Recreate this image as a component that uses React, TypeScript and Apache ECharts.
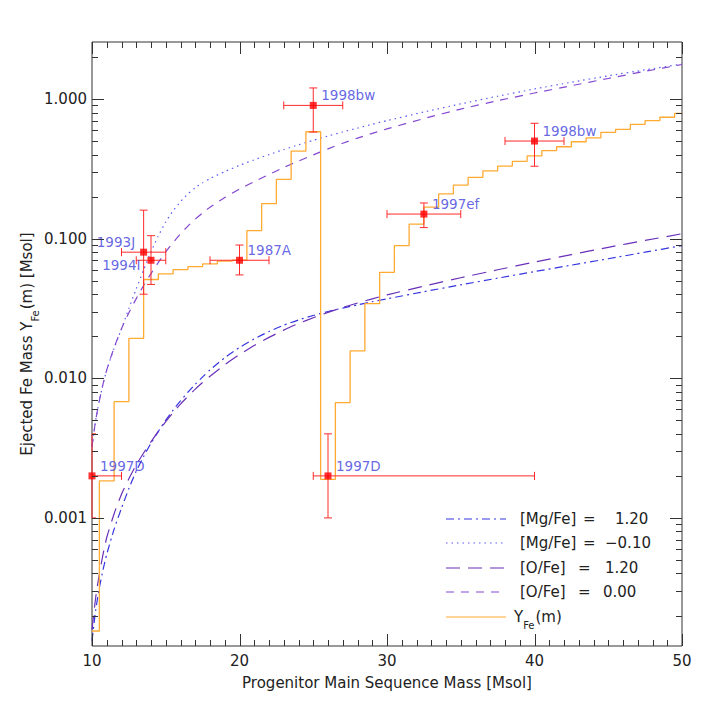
import React, { useEffect, useRef } from "react";
import * as echarts from "echarts";

// ---------------- data ----------------
const stepMasses = [10, 11, 12, 13, 14, 15, 16, 17, 18, 19, 20, 21, 22, 23, 24, 25, 26, 27, 28, 29, 30,
  31, 32, 33, 34, 35, 36, 37, 38, 39, 40, 41, 42, 43, 44, 45, 46, 47, 48, 49, 50];
const stepYields = [0.000155, 0.00184, 0.0068, 0.0193, 0.051, 0.056, 0.06, 0.063, 0.066, 0.069, 0.07,
  0.114, 0.178, 0.266, 0.424, 0.583, 0.00189, 0.0067, 0.0157, 0.0342, 0.0574,
  0.089, 0.127, 0.168, 0.209, 0.242, 0.275, 0.306, 0.331, 0.358, 0.391,
  0.427, 0.455, 0.494, 0.526, 0.577, 0.607, 0.659, 0.7, 0.74, 0.79];

const modelMasses = [10, 10.25, 10.5, 10.75, 11, 11.5, 12, 12.5, 13, 13.5, 14, 14.5, 15, 15.5, 16, 16.5,
  17, 17.5, 18, 19, 20, 21, 22, 23, 24, 25, 26, 27, 28, 29, 30, 32.5, 35, 37.5, 40, 42.5, 45, 47.5, 50];
// [Mg/Fe] = -0.10 (dotted)
const mgLowYields = [0.00324, 0.00501, 0.00692, 0.00912, 0.01148, 0.0164, 0.02265, 0.0316, 0.0437, 0.0596,
  0.0804, 0.1047, 0.1318, 0.1585, 0.184, 0.209, 0.2317, 0.2512, 0.2692, 0.302, 0.335, 0.367, 0.4, 0.4345,
  0.47, 0.506, 0.543, 0.581, 0.619, 0.659, 0.7, 0.807, 0.923, 1.047, 1.18, 1.318, 1.466, 1.618, 1.778];
// [O/Fe] = 0.00 (short dash)
const oLowYields = [0.00324, 0.00501, 0.00692, 0.00912, 0.01148, 0.0166, 0.02265, 0.0295, 0.0372, 0.0462,
  0.0562, 0.0676, 0.0804, 0.0938, 0.1084, 0.123, 0.138, 0.153, 0.168, 0.197, 0.2265, 0.256, 0.288, 0.3236,
  0.359, 0.398, 0.4395, 0.482, 0.525, 0.5675, 0.611, 0.724, 0.847, 0.973, 1.104, 1.245, 1.403, 1.578, 1.766];
// [Mg/Fe] = 1.20 (dash-dot)
const mgHighYields = [0.0001318, 0.0002188, 0.0003162, 0.0004266, 0.0005495, 0.0008318, 0.001175, 0.001622,
  0.002163, 0.002754, 0.003428, 0.004169, 0.005012, 0.005916, 0.006887, 0.007943, 0.009057, 0.01023, 0.01148,
  0.01403, 0.0166, 0.01914, 0.02163, 0.02399, 0.02618, 0.02818, 0.03006, 0.03184, 0.03357, 0.03532, 0.03707,
  0.04169, 0.04667, 0.05212, 0.05808, 0.06457, 0.07178, 0.07998, 0.08913];
// [O/Fe] = 1.20 (long dash)
const oHighYields = [0.0001585, 0.0002692, 0.0003981, 0.0005495, 0.0007244, 0.001072, 0.001479, 0.001905,
  0.002399, 0.002917, 0.003508, 0.004169, 0.004898, 0.005689, 0.006531, 0.007413, 0.008356, 0.009333, 0.01035,
  0.0125, 0.01479, 0.01718, 0.01963, 0.02213, 0.02466, 0.02716, 0.02965, 0.03214, 0.03459, 0.03707, 0.03954,
  0.04571, 0.05248, 0.05984, 0.06792, 0.07691, 0.0867, 0.09705, 0.1084];

const snNames = ["1993J", "1994I", "1987A", "1998bw", "1997ef", "1998bw", "1997D", "1997D"];
const snMass = [13.5, 14, 20, 25, 32.5, 40, 10, 26];
const snMassLo = [12, 13, 18, 23, 30, 38, 8, 25];
const snMassHi = [15, 15, 22, 27, 35, 42, 12, 40];
const snFe = [0.08, 0.07, 0.07, 0.9, 0.15, 0.5, 0.002, 0.002];
const snFeLo = [0.04, 0.047, 0.055, 0.58, 0.12, 0.33, 0.001, 0.001];
const snFeHi = [0.16, 0.105, 0.09, 1.2, 0.18, 0.67, 0.004, 0.004];

const xTickLabels = [10, 20, 30, 40, 50];
const yTickLabels = ["0.001", "0.010", "0.100", "1.000"];

const legendNames = ["[Mg/Fe]", "[Mg/Fe]", "[O/Fe]", "[O/Fe]"];
const legendValues = ["1.20", "\u22120.10", "1.20", "0.00"];

const X_MIN = 10, X_MAX = 50, Y_MIN = 1.21e-4, Y_MAX = 2.56;

// ---------------- styles ----------------
const FONT = "DejaVu Sans";
const TXT = "#222222";
const C_DASHDOT = "#3535e0";
const C_DOT = "#5a5af5";
const C_LONG = "#6a30b8";
const C_SHORT = "#8448d0";
const C_ORANGE = "#ffaa33";
const C_RED = "#ff2a2a";
const C_LABEL = "#4040dc";
const DASH_DOT = [8, 4, 2, 4];
const DOT = [1.5, 4];
const LONG = [14, 8];
const SHORT = [8, 7];

function textWidth(s: string, size: number) {
  const ctx = document.createElement("canvas").getContext("2d");
  if (!ctx) return s.length * size * 0.6;
  ctx.font = `${size}px "${FONT}"`;
  return ctx.measureText(s).width;
}

function buildOption() {
  const zip = (xs: number[], ys: number[]) => xs.map((x, i) => [x, ys[i]]);

  const xTicks: number[][] = [];
  for (let m = X_MIN; m <= X_MAX; m++) xTicks.push([m, 1, m % 10 === 0 ? 1 : 0]);
  const yTicks: number[][] = [];
  for (let n = -4; n <= 0; n++) {
    for (let k = 1; k <= 9; k++) {
      const v = k * Math.pow(10, n);
      if (v >= Y_MIN && v <= Y_MAX) yTicks.push([X_MIN, v, k === 1 ? 1 : 0]);
    }
  }

  const labelPlace: Record<string, any> = {
    "1993J": { position: "left", distance: 5, offset: [0, -10] },
    "1994I": { position: "left", distance: 7, offset: [0, 5] },
  };

  const modelLine = (name: string, xs: number[], ys: number[], color: string, dash: number[]) => ({
    type: "line",
    name,
    data: zip(xs, ys),
    showSymbol: false,
    smooth: 0.2,
    lineStyle: { color, width: 1.2, type: dash },
    z: 2,
    silent: true,
  });

  const tickStyle = { stroke: "#333", lineWidth: 1 };

  // legend graphic
  const rows = [519, 543, 568, 592, 617];
  const lineCols = [C_DASHDOT, C_DOT, C_LONG, C_SHORT, C_ORANGE];
  const lineDashes: any[] = [DASH_DOT, DOT, LONG, SHORT, null];
  const eqX = [583, 583, 578, 578];
  const valX = [615, 605, 605, 603];
  const legendEls: any[] = [];
  rows.forEach((y, i) => {
    legendEls.push({
      type: "line",
      shape: { x1: 446, y1: y, x2: 506, y2: y },
      style: { stroke: lineCols[i], lineWidth: 1.2, lineDash: lineDashes[i] || undefined },
    });
  });
  const txt = (text: string, x: number, y: number, size = 15, fill = TXT) => ({
    type: "text",
    x,
    y,
    style: {
      text,
      fill,
      font: `${size}px "${FONT}"`,
      fontSize: size,
      fontFamily: FONT,
      align: "left",
      textAlign: "left",
      verticalAlign: "middle",
      textVerticalAlign: "middle",
    },
  });
  for (let i = 0; i < 4; i++) {
    legendEls.push(txt(legendNames[i], 520, rows[i]));
    legendEls.push(txt("=", eqX[i], rows[i]));
    legendEls.push(txt(legendValues[i], valX[i], rows[i]));
  }
  const wY = textWidth("Y", 15);
  const wFe = textWidth("Fe", 10);
  legendEls.push(txt("Y", 514, rows[4]));
  legendEls.push(txt("Fe", 514 + wY, rows[4] + 8, 10));
  legendEls.push(txt("(m)", 514 + wY + wFe + 1, rows[4]));

  // y-axis title (rotated)
  const p1 = "Ejected Fe Mass Y";
  const p2 = "Fe";
  const p3 = "(m) [Msol]";
  const w1 = textWidth(p1, 15), w2 = textWidth(p2, 10), w3 = textWidth(p3, 15);
  const total = w1 + w2 + w3 + 1;
  const s0 = -total / 2;
  const yTitle = {
    type: "group",
    x: 27,
    y: 344,
    rotation: Math.PI / 2,
    children: [txt(p1, s0, 0), txt(p2, s0 + w1, 8, 10), txt(p3, s0 + w1 + w2 + 1, 0)],
  };

  return {
    animation: false,
    backgroundColor: "#ffffff",
    textStyle: { fontFamily: FONT },
    grid: { left: 92, right: 27, top: 42, bottom: 63, show: true, borderColor: "#333", borderWidth: 1, backgroundColor: "transparent" },
    xAxis: {
      type: "value",
      min: X_MIN,
      max: X_MAX,
      interval: 10,
      axisLine: { show: false },
      axisTick: { show: false },
      splitLine: { show: false },
      axisLabel: {
        color: TXT, fontSize: 15, fontFamily: FONT, margin: 7,
        formatter: (v: number) => (xTickLabels.indexOf(v) >= 0 ? String(v) : ""),
      },
      name: "Progenitor Main Sequence Mass [Msol]",
      nameLocation: "middle",
      nameGap: 29,
      nameTextStyle: { color: TXT, fontSize: 15, fontFamily: FONT },
    },
    yAxis: {
      type: "log",
      logBase: 10,
      min: Y_MIN,
      max: Y_MAX,
      axisLine: { show: false },
      axisTick: { show: false },
      splitLine: { show: false },
      minorTick: { show: false },
      axisLabel: {
        color: TXT, fontSize: 15, fontFamily: FONT, margin: 5,
        showMinLabel: false, showMaxLabel: false,
        formatter: (v: number) => {
          const idx = Math.round(Math.log10(v)) + 3;
          const exact = Math.abs(Math.log10(v) - Math.round(Math.log10(v))) < 1e-6;
          return exact && idx >= 0 && idx < yTickLabels.length ? yTickLabels[idx] : "";
        },
      },
    },
    graphic: { elements: [...legendEls, yTitle] },
    series: [
      modelLine("[Mg/Fe] = -0.10", modelMasses, mgLowYields, C_DOT, DOT),
      modelLine("[O/Fe] = 0.00", modelMasses, oLowYields, C_SHORT, SHORT),
      modelLine("[Mg/Fe] = 1.20", modelMasses, mgHighYields, C_DASHDOT, DASH_DOT),
      modelLine("[O/Fe] = 1.20", modelMasses, oHighYields, C_LONG, LONG),
      {
        type: "line",
        name: "Y_Fe(m)",
        data: zip(stepMasses, stepYields),
        step: "middle",
        showSymbol: false,
        lineStyle: { color: C_ORANGE, width: 1.3 },
        z: 3,
        silent: true,
      },
      {
        type: "custom",
        name: "errors",
        silent: true,
        z: 4,
        clip: false,
        encode: { x: 0, y: 1 },
        data: snMass.map((m, i) => [m, snFe[i], snMassLo[i], snMassHi[i], snFeLo[i], snFeHi[i]]),
        renderItem: (params: any, api: any) => {
          const cs = params.coordSys;
          const x = api.value(0), y = api.value(1);
          const c = api.coord([x, y]);
          const pxl = api.coord([api.value(2), y])[0];
          const pxh = api.coord([api.value(3), y])[0];
          const pyl = api.coord([x, api.value(4)])[1];
          const pyh = api.coord([x, api.value(5)])[1];
          const left = cs.x, right = cs.x + cs.width;
          const L = Math.max(pxl, left), R = Math.min(pxh, right);
          const cap = 4;
          const st = { stroke: C_RED, lineWidth: 1 };
          const ch: any[] = [];
          const ln = (x1: number, y1: number, x2: number, y2: number) =>
            ch.push({ type: "line", shape: { x1, y1, x2, y2 }, style: st });
          ln(L, c[1], R, c[1]);
          if (pxl >= left - 0.5) ln(pxl, c[1] - cap, pxl, c[1] + cap);
          if (pxh <= right + 0.5) ln(pxh, c[1] - cap, pxh, c[1] + cap);
          ln(c[0], pyl, c[0], pyh);
          const cl = Math.max(c[0] - cap, left), cr = Math.min(c[0] + cap, right);
          ln(cl, pyl, cr, pyl);
          ln(cl, pyh, cr, pyh);
          return { type: "group", children: ch };
        },
      },
      {
        type: "scatter",
        name: "SNe",
        symbol: "rect",
        symbolSize: 7,
        itemStyle: { color: "#ff0000" },
        z: 5,
        silent: true,
        data: snMass.map((m, i) => ({
          value: [m, snFe[i]],
          name: snNames[i],
          label: labelPlace[snNames[i]] || { position: "right", distance: 4.5, offset: [0, -10] },
        })),
        label: {
          show: true,
          formatter: "{b}",
          color: C_LABEL,
          fontSize: 13.5,
          fontFamily: FONT,
        },
      },
      {
        type: "custom",
        name: "xticks",
        silent: true,
        z: 6,
        clip: false,
        encode: { x: 0, y: 1 },
        data: xTicks,
        renderItem: (params: any, api: any) => {
          const cs = params.coordSys;
          const px = Math.round(api.coord([api.value(0), 1])[0]) + 0.5;
          const len = api.value(2) ? 12 : 6;
          const b = cs.y + cs.height, t = cs.y;
          return {
            type: "group",
            children: [
              { type: "line", shape: { x1: px, y1: b, x2: px, y2: b - len }, style: tickStyle },
              { type: "line", shape: { x1: px, y1: t, x2: px, y2: t + len }, style: tickStyle },
            ],
          };
        },
      },
      {
        type: "custom",
        name: "yticks",
        silent: true,
        z: 6,
        clip: false,
        encode: { x: 0, y: 1 },
        data: yTicks,
        renderItem: (params: any, api: any) => {
          const cs = params.coordSys;
          const py = Math.round(api.coord([X_MIN, api.value(1)])[1]) + 0.5;
          const len = api.value(2) ? 12 : 6;
          const l = cs.x, r = cs.x + cs.width;
          return {
            type: "group",
            children: [
              { type: "line", shape: { x1: l, y1: py, x2: l + len, y2: py }, style: tickStyle },
              { type: "line", shape: { x1: r, y1: py, x2: r - len, y2: py }, style: tickStyle },
            ],
          };
        },
      },
    ],
  };
}

export default function App() {
  const ref = useRef<HTMLDivElement>(null);
  useEffect(() => {
    if (!ref.current) return;
    const chart = echarts.init(ref.current, null, { renderer: "svg" });
    chart.setOption(buildOption() as any);
    return () => chart.dispose();
  }, []);
  return (
    <div
      ref={ref}
      style={{ position: "absolute", left: 0, top: 0, width: 709, height: 709, background: "#fff" }}
    />
  );
}
